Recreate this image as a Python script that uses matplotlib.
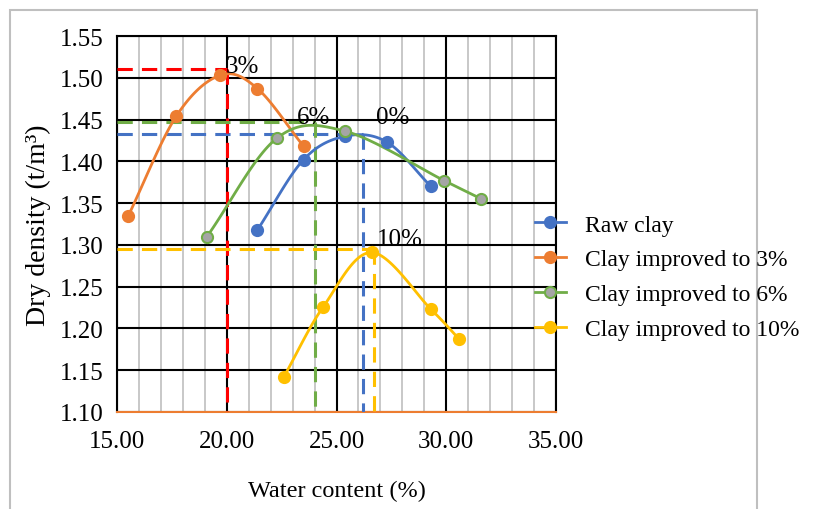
import matplotlib
matplotlib.use("Agg")
import matplotlib.pyplot as plt
import numpy as np
from matplotlib.patches import Rectangle
from matplotlib.ticker import MultipleLocator, FormatStrFormatter

plt.rcParams['font.family'] = ['Liberation Serif', 'DejaVu Serif']

# compaction test points
raw_w = [21.4, 23.5, 25.4, 27.3, 29.3]
raw_d = [1.318, 1.402, 1.430, 1.423, 1.370]
c3_w = [15.5, 17.7, 19.7, 21.4, 23.5]
c3_d = [1.334, 1.454, 1.503, 1.487, 1.418]
c6_w = [19.1, 22.3, 25.4, 29.9, 31.6]
c6_d = [1.310, 1.428, 1.436, 1.377, 1.355]
c10_w = [22.6, 24.4, 26.6, 29.3, 30.6]
c10_d = [1.142, 1.226, 1.291, 1.223, 1.187]

labels = ["Raw clay", "Clay improved to 3%", "Clay improved to 6%", "Clay improved to 10%"]
peak_tags = ["0%", "3%", "6%", "10%"]
# optimum water content / max dry density guide lines
opt_w = [26.2, 20.0, 24.0, 26.7]
max_d = [1.4325, 1.51, 1.447, 1.295]
tag_pos = [(26.8, 1.440), (19.95, 1.5015), (23.2, 1.440), (26.85, 1.294)]

colors = ["#4472C4", "#ED7D31", "#70AD47", "#FFC000"]
guide_colors = ["#4472C4", "#FF0000", "#70AD47", "#FFC000"]


def smooth(x, y, n=30):
    # catmull-rom style curve through the points, like excel smoothed lines
    x = np.asarray(x, float)
    y = np.asarray(y, float)
    px = np.concatenate([[2 * x[0] - x[1]], x, [2 * x[-1] - x[-2]]])
    py = np.concatenate([[2 * y[0] - y[1]], y, [2 * y[-1] - y[-2]]])
    xs, ys = [], []
    t = np.linspace(0, 1, n)
    for i in range(1, len(px) - 2):
        for p, out in ((px, xs), (py, ys)):
            p0, p1, p2, p3 = p[i - 1], p[i], p[i + 1], p[i + 2]
            out.append(0.5 * ((2 * p1) + (-p0 + p2) * t + (2 * p0 - 5 * p1 + 4 * p2 - p3) * t ** 2
                              + (-p0 + 3 * p1 - 3 * p2 + p3) * t ** 3))
    return np.concatenate(xs), np.concatenate(ys)


fig = plt.figure(figsize=(8.13, 5.10), dpi=100)
ax = fig.add_axes([117 / 813, 97 / 510, 439 / 813, 376 / 510])

series = [(raw_w, raw_d), (c3_w, c3_d), (c6_w, c6_d), (c10_w, c10_d)]

# dashed guide lines
for k in range(4):
    ax.plot([15, opt_w[k]], [max_d[k], max_d[k]], color=guide_colors[k], lw=2.2,
            ls=(0, (5, 3)), zorder=3)
    ax.plot([opt_w[k], opt_w[k]], [max_d[k], 1.10], color=guide_colors[k], lw=2.2,
            ls=(0, (5, 3)), zorder=3)

handles = []
for k, (w, d) in enumerate(series):
    sx, sy = smooth(w, d)
    ax.plot(sx, sy, color=colors[k], lw=2, zorder=4)
    face = "#A5A5A5" if k == 2 else colors[k]
    ax.plot(w, d, 'o', color=colors[k], mfc=face, mec=colors[k], ms=8, mew=1.5, zorder=5)
    h, = ax.plot([], [], '-o', color=colors[k], mfc=face, mec=colors[k], ms=8, mew=1.5, lw=2)
    handles.append(h)

for k in range(4):
    ax.text(tag_pos[k][0], tag_pos[k][1], peak_tags[k], fontsize=18, ha='left', va='bottom', zorder=6)

ax.set_xlim(15, 35)
ax.set_ylim(1.10, 1.55)
ax.xaxis.set_major_locator(MultipleLocator(5))
ax.xaxis.set_minor_locator(MultipleLocator(1))
ax.yaxis.set_major_locator(MultipleLocator(0.05))
ax.xaxis.set_major_formatter(FormatStrFormatter('%.2f'))
ax.yaxis.set_major_formatter(FormatStrFormatter('%.2f'))
ax.tick_params(which='both', length=0, labelsize=18)
ax.tick_params(axis='x', pad=13)
ax.tick_params(axis='y', pad=10)
ax.grid(which='major', color='black', lw=1.5)
ax.grid(which='minor', axis='x', color='#BFBFBF', lw=1.2)
ax.set_axisbelow(True)
for s in ['left', 'top', 'right']:
    ax.spines[s].set_color('black')
    ax.spines[s].set_linewidth(1.5)
ax.spines['bottom'].set_color('#ED7D31')
ax.spines['bottom'].set_linewidth(1.5)

ax.set_xlabel("Water content (%)", fontsize=17.5, labelpad=20)
ax.set_ylabel("Dry density (t/m³)", fontsize=20, labelpad=6)

fig.legend(handles, labels, loc='upper left', bbox_to_anchor=(535 / 813, 1 - 215 / 510),
           frameon=False, fontsize=17, handlelength=1.3, handletextpad=0.8, labelspacing=0.56,
           borderaxespad=0, borderpad=0)

fig.add_artist(Rectangle((10 / 813, -0.05), 747 / 813, 1.05 - 11 / 510, transform=fig.transFigure,
                         fill=False, edgecolor='#BFBFBF', lw=1.5))

fig.savefig("out.png", dpi=100)
